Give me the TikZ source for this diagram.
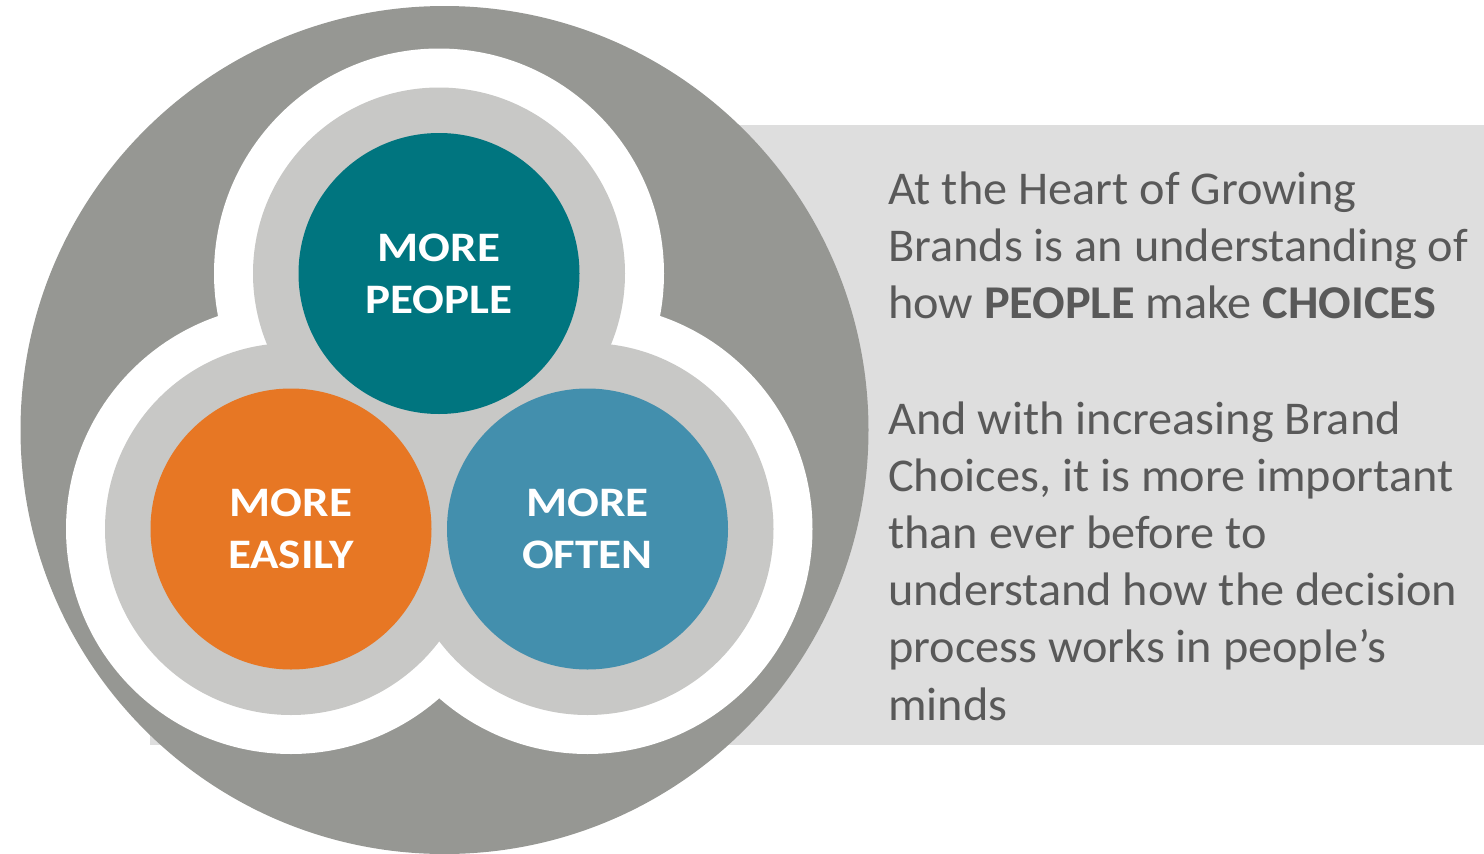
\documentclass[tikz,border=0pt]{standalone}
\usepackage{fontspec}
\setmainfont{Carlito}
\newfontfamily\corefont[FakeStretch=1.12]{Carlito}
\newfontfamily\panelfont[FakeStretch=1.027]{Carlito}
\usepackage{tikz}
\definecolor{RingGray}{RGB}{150,151,147}
\definecolor{SoftGray}{RGB}{200,200,198}
\definecolor{PanelGray}{RGB}{222,222,222}
\definecolor{TealCore}{RGB}{0,117,127}
\definecolor{OrangeCore}{RGB}{231,119,36}
\definecolor{BlueCore}{RGB}{67,143,173}
\definecolor{TextGray}{RGB}{89,89,89}
\tikzset{
  core/.style={circle, minimum size=281pt, inner sep=0pt, text=white, align=center,
    font=\corefont\fontsize{42}{52}\selectfont\bfseries},
  halo/.style={fill=white},
  band/.style={fill=SoftGray},
  txtline/.style={anchor=base west, inner sep=0pt, text=TextGray,
    font=\panelfont\fontsize{47}{57}\selectfont},
}

\begin{document}
\begin{tikzpicture}[x=1pt, y=-1pt]
  \useasboundingbox (0,0) rectangle (1484,854);
  % centres of the three cores
  \coordinate (ctop) at (439,273.5);
  \coordinate (cleft) at (291,529);
  \coordinate (cright) at (587.5,529);

  % text panel behind the disc
  \fill[PanelGray] (150,125) rectangle (1484,745);
  \fill[RingGray] (444.5,430) circle[radius=424pt];

  % white halo, then grey band
  \foreach \c in {ctop,cleft,cright}
    \fill[halo] (\c) circle[radius=225pt];
  \foreach \c in {ctop,cleft,cright}
    \fill[band] (\c) circle[radius=186pt];

  \node[core, fill=TealCore] (people) at (ctop) {MORE\\PEOPLE};
  \node[core, fill=OrangeCore] (easily) at (cleft) {MORE\\EASILY};
  \node[core, fill=BlueCore] (often) at (cright) {MORE\\OFTEN};

  % right hand text
  \foreach \t [count=\i from 0] in {At the Heart of Growing,
      Brands is an understanding of,
      how \textbf{PEOPLE} make \textbf{CHOICES}}
    \node[txtline] (head\i) at (888,{204+57*\i}) {\t};
  \foreach \t [count=\i from 0] in {And with increasing Brand,
      {Choices, it is more important},
      than ever before to,
      understand how the decision,
      process works in people’s,
      minds}
    \node[txtline] (body\i) at (888,{434+57.2*\i}) {\t};
\end{tikzpicture}
\end{document}
